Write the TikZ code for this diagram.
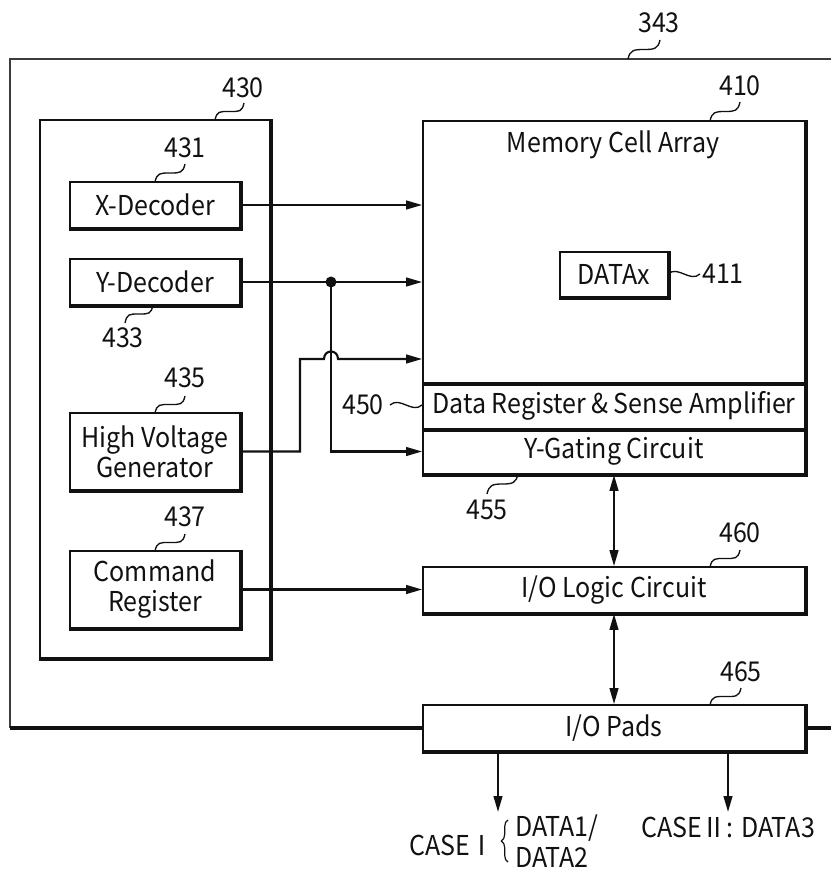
\documentclass[tikz,border=0pt]{standalone}
\usepackage{fontspec}
\setmainfont[FakeStretch=0.915]{Noto Sans CJK KR}
\usepackage{tikz}
\usetikzlibrary{positioning,arrows.meta,calc,decorations.pathreplacing}
\definecolor{ink}{HTML}{111111}
\definecolor{rim}{HTML}{3C3C3C}
\tikzset{
  blk/.style 2 args={draw=ink, line width=1.3pt, minimum width=#1*0.75pt, minimum height=#2*0.75pt, inner sep=0pt, align=center, font=\fontsize{20.5}{22.5}\selectfont, text=ink},
  edge/.style={ink, line width=2.5pt},
  tag/.style={font=\fontsize{20.5}{22.5}\selectfont, inner sep=0pt, text=ink},
  lead/.style={ink, line width=1pt},
  wire/.style={ink, line width=1.6pt, -{Triangle[length=12pt,width=6.5pt]}},
  bus/.style={ink, line width=1.6pt, {Triangle[length=12pt,width=6.5pt]}-{Triangle[length=12pt,width=6.5pt]}},
  brace/.style={ink, line width=0.9pt, decorate, decoration={brace, amplitude=5pt}},
}
% leader from a lower point up to a higher one, and a small tilde
\newcommand{\leadS}[2]{\draw[lead] (#1) .. controls +(2,-9) and +(-10,0) .. ($(#1)!.5!(#2)$) .. controls +(10,0) and +(-2,9) .. (#2);}
\newcommand{\leadT}[2]{\draw[lead] (#1) .. controls +(10,-9) and +(-10,9) .. (#2);}

\begin{document}
\begin{tikzpicture}[x=0.75pt, y=-0.75pt]
\useasboundingbox (0,0) rectangle (831,873);
% outer frame 343
\draw[rim, line width=1.5pt] (831,59) -- (9.5,59) -- (9.5,728);
% control logic 430
\node[blk={230}{538}] (ctrl) at (155,389) {};
\node[blk={170}{46}] (xdec) at (155,205) {X-Decoder};
\node[blk={170}{46}] (ydec) at (155,282) {Y-Decoder};
\node[blk={170}{77}] (hvg) at (155,451.5) {High Voltage\\Generator};
\node[blk={170}{77}] (cmd) at (155,589.5) {Command\\Register};
% array side
\node[blk={382}{262}] (mca) at (614,252) {};
\node[tag] (mcatxt) at (613,145) {Memory Cell Array};
\node[blk={108}{45}] (datax) at (614,274.5) {DATAx};
\node[blk={382}{46}] (drsa) at (614,406) {Data Register \& Sense Amplifier};
\node[blk={382}{45}] (ygate) at (614,451.5) {Y-Gating Circuit};
\node[blk={382}{46}] (iol) at (614,590) {I/O Logic Circuit};
\node[blk={382}{46}] (pads) at (614,728) {I/O Pads};
\foreach \n in {ctrl,xdec,ydec,hvg,cmd,mca,datax,drsa,ygate,iol,pads}
  \draw[edge] (\n.north east) -- (\n.south east) -- (\n.south west);
\draw[edge] (9.5,728) -- (pads.west);
\draw[edge] (pads.east) -- (831,728);
% reference numerals
\node[tag] (t343) at (659,23) {343};
\node[tag] (t430) at (243,88) {430};
\node[tag] (t410) at (740,86) {410};
\node[tag] (t431) at (185,148) {431};
\node[tag] (t433) at (123,338) {433};
\node[tag] (t435) at (185,378) {435};
\node[tag] (t437) at (185,517) {437};
\node[tag] (t411) at (723,274) {411};
\node[tag] (t450) at (363,405) {450};
\node[tag] (t455) at (487,510) {455};
\node[tag] (t460) at (740,533) {460};
\node[tag] (t465) at (741,672) {465};
\leadS{628,59}{660,40}
\leadS{215,120}{244,103}
\leadS{710,121}{740,102}
\leadS{155,182}{185,164}
\leadS{125,323}{153,305}
\leadS{155,413}{185,396}
\leadS{155,551}{185,534}
\leadS{487,494}{518,474}
\leadS{710,567}{740,550}
\leadS{710,705}{741,688}
\leadT{390,405}{422,405}
\leadT{668,274}{700,274}
% connections
\coordinate (jn) at (331,282);
\coordinate (bend) at (300,359);
\coordinate (hop) at (331,359);
\draw[wire] (xdec.east) -- (xdec.east -| mca.west);
\draw[wire] (ydec.east) -- (ydec.east -| mca.west);
\fill[ink] (jn) circle (5.5);
\draw[wire] (jn) |- (ygate.west);
\draw[wire] (hvg.east) -| (bend) -- ($(hop)+(-7,0)$) .. controls +(0,-10) and +(0,-10) .. ($(hop)+(7,0)$) -- (hop -| mca.west);
\draw[wire] (cmd.east) -- (cmd.east -| iol.west);
\draw[bus] (ygate.south) -- (iol.north);
\draw[bus] (iol.south) -- (pads.north);
\coordinate (o1) at (498,812);
\coordinate (o2) at (728,812);
\draw[wire] (pads.south -| o1) -- (o1);
\draw[wire] (pads.south -| o2) -- (o2);
% output cases
\node[tag] (case1) at (452,845) {CASEⅠ};
\node[tag, align=left, anchor=west, font=\fontsize{20.5}{23}\selectfont] (d12) at (515,841) {DATA1/\\DATA2};
\draw[brace] ($(d12.west)+(-7,21)$) -- ($(d12.west)+(-7,-21)$);
\node[tag] (case2) at (728,827) {CASEⅡ: DATA3};
\end{tikzpicture}
\end{document}
